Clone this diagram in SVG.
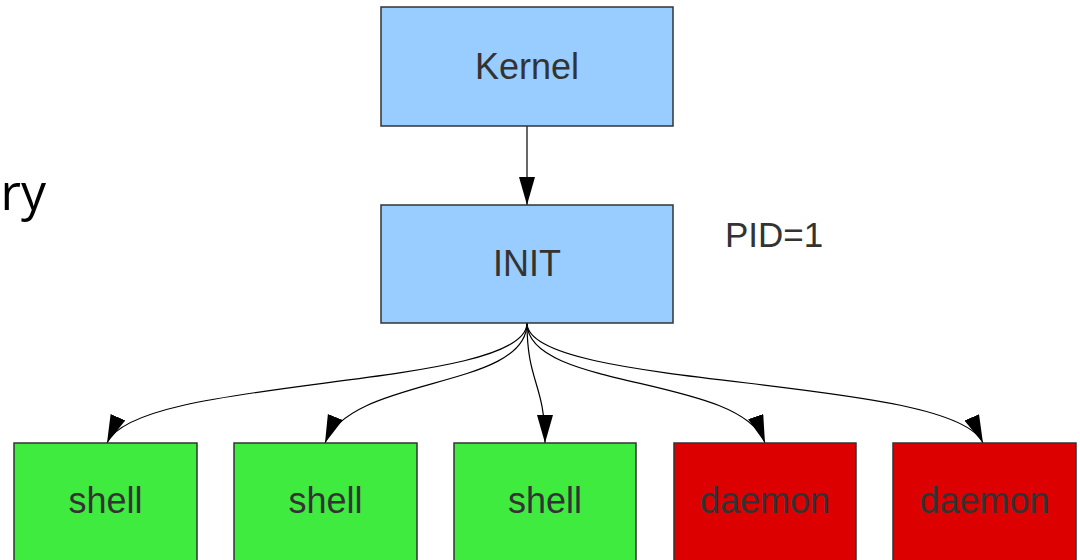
<svg xmlns="http://www.w3.org/2000/svg" width="1080" height="560" viewBox="0 0 1080 560">
<defs>
<style>
.box{stroke:#333;stroke-width:1.5}
.blue{fill:#99ccff}
.green{fill:#40eb40}
.red{fill:#dd0000}
.lbl{font-family:"Liberation Sans",Arial,sans-serif;font-size:36px;fill:#333;text-anchor:middle}
.edge{fill:none;stroke:#000;stroke-width:1.2}
</style>
<marker id="arr" markerUnits="userSpaceOnUse" markerWidth="30" markerHeight="17" refX="28" refY="8" orient="auto" viewBox="0 0 30 17">
<path d="M0,0 L28,8 L0,16 z" fill="#000"/>
</marker>
</defs>
<text x="46" y="210" font-family="'Open Sans','DejaVu Sans',sans-serif" font-size="50" fill="#000" text-anchor="end">ry</text>
<g id="connectors">
<path class="edge" d="M527,126 L527,205" marker-end="url(#arr)"/>
<path class="edge" d="M527,323 C527,390 136,375 107,443" marker-end="url(#arr)"/>
<path class="edge" d="M527,323 C527,390 352,375 325,443" marker-end="url(#arr)"/>
<path class="edge" d="M527,323 C527,383 545,383 545,443" marker-end="url(#arr)"/>
<path class="edge" d="M527,323 C527,390 741,375 765,443" marker-end="url(#arr)"/>
<path class="edge" d="M527,323 C527,390 953,375 983,443" marker-end="url(#arr)"/>
</g>
<g id="kernel"><rect class="box blue" x="381" y="7" width="292" height="119"/><text class="lbl" x="527" y="79">Kernel</text></g>
<g id="init"><rect class="box blue" x="381" y="205" width="292" height="118"/><text class="lbl" x="527" y="276">INIT</text></g>
<g id="pid"><text class="lbl" x="774" y="247" style="font-size:35px">PID=1</text></g>
<g id="shell1"><rect class="box green" x="14" y="443" width="183" height="130"/><text class="lbl" x="105.5" y="513">shell</text></g>
<g id="shell2"><rect class="box green" x="234" y="443" width="183" height="130"/><text class="lbl" x="325.5" y="513">shell</text></g>
<g id="shell3"><rect class="box green" x="454" y="443" width="182" height="130"/><text class="lbl" x="545" y="513">shell</text></g>
<g id="daemon1"><rect class="box red" x="674" y="443" width="182" height="130"/><text class="lbl" x="765" y="513">daemon</text></g>
<g id="daemon2"><rect class="box red" x="893" y="443" width="183" height="130"/><text class="lbl" x="984.5" y="513">daemon</text></g>
</svg>
